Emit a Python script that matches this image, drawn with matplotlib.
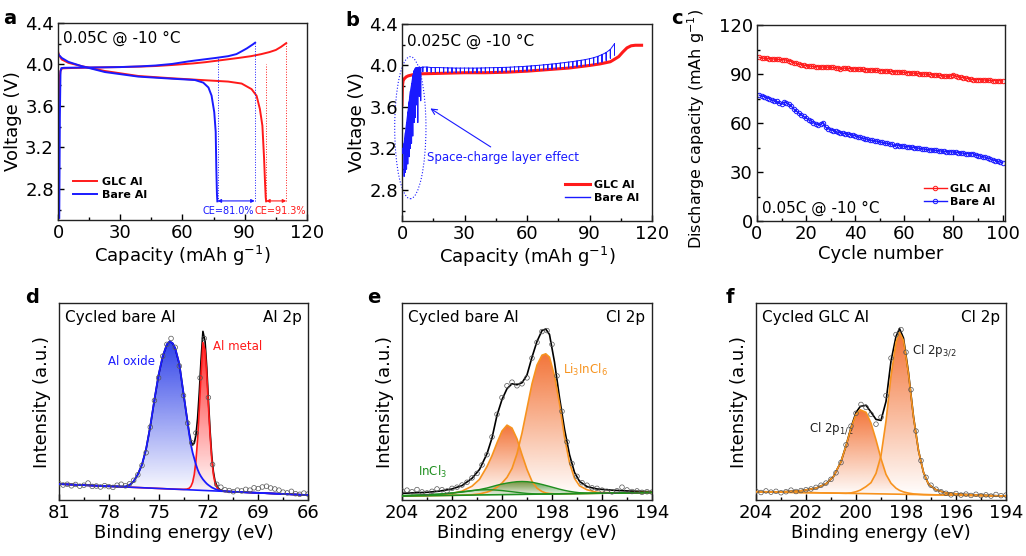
import numpy as np
import matplotlib.pyplot as plt
from matplotlib.patches import Ellipse, PathPatch
from matplotlib.colors import to_rgb
from matplotlib.ticker import MultipleLocator

plt.rcParams['font.family'] = ['DejaVu Sans']
plt.rcParams['mathtext.default'] = 'regular'

RED = '#ff1a1a'
BLUE = '#1a1aff'
ORANGE = '#f7931e'
GREEN = '#1f8f1f'

# ---------------- (a) charge/discharge 0.05C ----------------
a_glc_chg_x = [0.05, 0.3, 0.7, 1.2, 2, 5, 15, 30, 40, 47, 55, 65, 71, 80, 87, 93, 98, 102, 105, 107.5, 110]
a_glc_chg_y = [2.55, 3.55, 3.85, 3.94, 3.962, 3.965, 3.97, 3.975, 3.98, 3.985, 3.995, 4.01, 4.022, 4.045, 4.063, 4.08, 4.10, 4.12, 4.14, 4.17, 4.206]
a_bare_chg_x = [0.6, 0.9, 1.2, 1.6, 3, 10, 20, 30, 40, 47, 55, 63, 70, 76, 82, 86, 88.5, 91, 92.5, 94, 95]
a_bare_chg_y = [2.52, 3.5, 3.93, 3.965, 3.968, 3.97, 3.972, 3.975, 3.982, 3.99, 4.005, 4.03, 4.048, 4.063, 4.08, 4.10, 4.127, 4.155, 4.175, 4.195, 4.21]
a_glc_dis_x = [0, 0.5, 1.8, 5, 11.4, 22.6, 38.7, 54.8, 70.8, 82, 88.5, 93.3, 95.7, 97.3, 98.5, 99.3, 99.8, 100.1, 100.3]
a_glc_dis_y = [4.127, 4.09, 4.048, 4.016, 3.984, 3.937, 3.889, 3.867, 3.848, 3.835, 3.816, 3.762, 3.698, 3.57, 3.41, 3.1, 2.85, 2.72, 2.68]
a_bare_dis_x = [0, 0.5, 1.8, 5, 11.4, 22.6, 38.7, 54.8, 66, 70, 72.5, 74, 75.3, 76, 76.3, 76.6, 76.8]
a_bare_dis_y = [4.11, 4.09, 4.063, 4.025, 3.984, 3.927, 3.883, 3.863, 3.85, 3.825, 3.778, 3.70, 3.54, 3.35, 3.0, 2.75, 2.68]
ce_bare = [76.9, 94.8]
ce_bare_top = [4.065, 4.21]
ce_glc = [100.3, 110.0]
ce_glc_top = [4.0, 4.206]
ce_labels = ['CE=81.0%', 'CE=91.3%']

# ---------------- (b) GITT 0.025C ----------------
b_glc_x = [0, 0.2, 0.5, 1, 2, 3, 5, 8, 10, 20, 30, 40, 50, 60, 70, 80, 90, 95, 100, 102, 104, 106, 108, 110, 112, 115]
b_glc_y = [3.62, 3.8, 3.85, 3.87, 3.89, 3.90, 3.91, 3.92, 3.92, 3.925, 3.93, 3.93, 3.935, 3.945, 3.96, 3.975, 4.0, 4.015, 4.036, 4.06, 4.085, 4.13, 4.17, 4.19, 4.195, 4.195]
b_bare_x = [0.5, 1.0, 1.6, 2.2, 2.8, 3.4, 4.0, 4.6, 5.2, 5.8, 6.4, 7.0, 7.6, 8.3, 9.0,
            10, 12, 14, 16, 18, 20, 22, 24, 26, 28, 30, 32, 34, 36, 38, 40, 42, 44, 46, 48, 50,
            52, 54, 56, 58, 60, 62, 64, 66, 68, 70, 72, 74, 76, 78, 80, 82, 84, 86, 88, 90,
            92, 94, 96, 98, 100, 102]
b_bare_top = [3.2, 3.25, 3.35, 3.45, 3.55, 3.65, 3.75, 3.82, 3.9, 3.95, 3.975, 3.98, 3.98, 3.985, 3.98,
              3.985, 3.985, 3.98, 3.98, 3.98, 3.978, 3.977, 3.976, 3.975, 3.975, 3.975, 3.975, 3.975, 3.975, 3.976, 3.977, 3.978, 3.979, 3.98, 3.981, 3.982,
              3.984, 3.986, 3.988, 3.99, 3.993, 3.996, 3.999, 4.002, 4.006, 4.01, 4.014, 4.018, 4.023, 4.028, 4.033, 4.038, 4.044, 4.05, 4.057, 4.065,
              4.075, 4.088, 4.105, 4.125, 4.155, 4.21]
b_bare_low = [3.15, 2.93, 2.97, 3.0, 3.05, 3.12, 3.2, 3.25, 3.32, 3.45, 3.5, 3.62, 3.45, 3.7, 3.66,
              3.94, 3.94, 3.935, 3.935, 3.935, 3.933, 3.932, 3.931, 3.93, 3.93, 3.93, 3.93, 3.93, 3.93, 3.931, 3.932, 3.933, 3.934, 3.935, 3.936, 3.937,
              3.938, 3.94, 3.942, 3.944, 3.946, 3.948, 3.951, 3.954, 3.957, 3.96, 3.963, 3.966, 3.97, 3.974, 3.978, 3.982, 3.987, 3.992, 3.997, 4.003,
              4.01, 4.02, 4.032, 4.048, 4.07, 4.1]

# ---------------- (c) cycling ----------------
cycles = np.arange(1, 101)
c_glc = [100.2, 99.8, 99.6, 99.5, 99.3, 99.4, 99.1, 99.0, 98.9, 98.8,
         98.7, 98.5, 98.2, 97.6, 97.0, 96.5, 96.1, 95.7, 95.4, 95.1,
         94.9, 94.8, 94.6, 94.5, 94.4, 94.3, 94.3, 94.2, 94.2, 94.1,
         94.0, 93.9, 93.6, 92.9, 93.7, 93.5, 93.4, 93.3, 93.2, 93.1,
         93.0, 92.9, 92.8, 92.7, 92.6, 92.5, 92.4, 92.3, 92.2, 92.1,
         92.0, 91.9, 91.8, 91.6, 91.5, 91.4, 91.3, 91.2, 91.1, 91.0,
         90.9, 90.8, 90.6, 90.5, 90.4, 90.2, 89.8, 90.0, 89.9, 89.8,
         89.6, 89.5, 89.3, 89.2, 89.0, 88.8, 88.6, 88.5, 88.8, 89.6,
         88.7, 88.2, 88.0, 87.8, 87.5, 87.2, 86.9, 86.6, 86.5, 86.6,
         86.5, 86.4, 86.3, 86.1, 86.2, 86.0, 85.9, 86.0, 85.8, 85.8]
c_bare = [77.0, 76.6, 76.2, 75.6, 75.0, 74.2, 73.4, 73.3, 72.2, 71.4,
          72.8, 72.4, 71.5, 70.2, 68.6, 67.3, 66.1, 65.0, 64.0, 63.0,
          62.0, 61.2, 60.3, 59.5, 58.9, 59.3, 60.2, 57.4, 56.6, 56.0,
          55.4, 54.8, 54.3, 54.0, 53.7, 53.5, 53.2, 52.9, 52.6, 52.2,
          51.7, 51.2, 50.7, 50.3, 50.0, 49.6, 49.3, 49.0, 48.8, 48.5,
          48.1, 47.6, 47.6, 47.3, 47.0, 45.8, 46.6, 46.2, 46.0, 45.8,
          45.6, 45.4, 45.2, 45.0, 44.8, 44.5, 44.3, 44.0, 43.8, 43.6,
          43.5, 43.4, 43.2, 43.0, 42.8, 42.6, 42.5, 42.4, 42.3, 42.2,
          42.1, 41.9, 41.7, 41.5, 41.3, 41.2, 41.3, 41.2, 40.6, 40.1,
          39.7, 39.4, 39.0, 38.5, 38.0, 37.5, 37.0, 36.5, 36.1, 35.8]

# ---------------- (d) Al 2p ----------------
d_E = [81.0, 80.0, 79.0, 78.0, 77.0, 76.75, 76.5, 76.25, 76.0, 75.75, 75.5, 75.25, 75.0, 74.75, 74.5, 74.33,
       74.15, 74.0, 73.75, 73.5, 73.3, 73.15, 73.05, 72.95, 72.85, 72.75, 72.65, 72.55, 72.45, 72.33, 72.2,
       72.1, 72.0, 71.9, 71.8, 71.7, 71.6, 71.45, 71.3, 71.1, 70.8, 70.0, 69.0, 68.0, 67.0, 66.0]
d_base = [8.10, 7.73, 7.35, 6.98, 6.61, 6.51, 6.42, 6.33, 6.23, 6.14, 6.05, 5.95, 5.86, 5.77, 5.67, 5.61,
          5.54, 5.49, 5.39, 5.30, 5.23, 5.17, 5.13, 5.10, 5.06, 5.02, 4.98, 4.95, 4.91, 4.86, 4.82,
          4.78, 4.74, 4.70, 4.67, 4.63, 4.59, 4.54, 4.48, 4.40, 4.29, 3.99, 3.62, 3.25, 2.87, 2.50]
d_oxide = [8.10, 7.73, 7.35, 6.98, 6.8, 7.6, 9.5, 13.0, 18.0, 26.0, 37.5, 51.0, 63.5, 73.0, 79.0, 80.5,
           79.5, 77.0, 69.0, 54.0, 42.0, 33.0, 28.0, 24.0, 21.0, 18.0, 15.5, 13.5, 12.0, 10.5, 9.2,
           8.3, 7.6, 7.0, 6.4, 6.0, 5.6, 5.1, 4.8, 4.5, 4.3, 3.99, 3.62, 3.25, 2.87, 2.50]
d_metal = [8.10, 7.73, 7.35, 6.98, 6.61, 6.51, 6.42, 6.33, 6.23, 6.14, 6.05, 5.95, 5.86, 5.77, 5.67, 5.61,
           5.54, 5.49, 5.45, 5.40, 5.5, 6.0, 7.0, 9.0, 13.0, 20.0, 31.0, 46.0, 63.0, 80.0, 76.0,
           64.0, 48.0, 33.0, 21.0, 13.0, 8.5, 5.8, 4.9, 4.45, 4.29, 3.99, 3.62, 3.25, 2.87, 2.50]
d_env = [8.10, 7.73, 7.35, 6.98, 6.8, 7.6, 9.5, 13.0, 18.0, 26.0, 37.5, 51.0, 63.5, 73.0, 79.0, 80.5,
         79.5, 77.0, 69.0, 54.1, 42.3, 33.8, 29.9, 27.9, 28.9, 33.0, 41.5, 54.5, 70.1, 85.6, 80.4,
         67.5, 50.9, 35.3, 22.7, 14.4, 9.5, 6.4, 5.2, 4.55, 4.3, 3.99, 3.62, 3.25, 2.87, 2.50]
d_raw_E = [81.0, 80.75, 80.5, 80.25, 80.0, 79.75, 79.5, 79.25, 79.0, 78.75, 78.5, 78.25, 78.0, 77.75, 77.5,
           77.25, 77.0, 76.75, 76.5, 76.25, 76.0, 75.75, 75.5, 75.25, 75.0, 74.75, 74.5, 74.25, 74.0, 73.75,
           73.5, 73.25, 73.0, 72.75, 72.5, 72.25, 72.0, 71.75, 71.5, 71.25, 71.0, 70.75, 70.5, 70.25, 70.0,
           69.75, 69.5, 69.25, 69.0, 68.75, 68.5, 68.25, 68.0, 67.75, 67.5, 67.25, 67.0, 66.75, 66.5, 66.25, 66.0]
d_raw_I = [8.3, 7.6, 8.0, 7.2, 7.9, 7.0, 7.5, 8.6, 6.9, 7.1, 6.6, 7.3, 6.8, 6.4, 7.5,
           8.0, 7.2, 8.2, 10.0, 12.8, 17.5, 24.0, 37.0, 50.5, 62.0, 73.0, 79.0, 82.0, 77.5, 68.0,
           53.0, 39.0, 29.0, 34.0, 62.0, 82.0, 52.0, 18.0, 8.0, 6.5, 5.2, 4.8, 4.2, 5.0, 4.6,
           5.4, 5.0, 6.2, 5.8, 6.6, 7.0, 6.1, 5.6, 5.0, 4.0, 3.6, 4.4, 3.2, 2.9, 3.5, 3.0]

# ---------------- (e) Cl 2p, bare Al ----------------
e_E = [204.0, 203.0, 202.5, 202.0, 201.6, 201.2, 200.9, 200.6, 200.4, 200.2, 200.0, 199.8, 199.6, 199.4, 199.2, 199.0,
       198.8, 198.6, 198.4, 198.25, 198.1, 197.9, 197.7, 197.5, 197.3, 197.1, 196.9, 196.6, 196.2, 195.5, 195.0, 194.0]
e_base = [2.0, 2.18, 2.27, 2.36, 2.43, 2.5, 2.56, 2.61, 2.65, 2.68, 2.72, 2.76, 2.79, 2.83, 2.86, 2.9,
          2.94, 2.97, 3.01, 3.04, 3.06, 3.1, 3.13, 3.17, 3.21, 3.24, 3.28, 3.33, 3.4, 3.53, 3.62, 3.8]
e_incl3 = [2.3, 2.7, 3.0, 3.5, 4.0, 4.7, 5.3, 6.1, 6.8, 7.5, 8.1, 8.6, 9.0, 9.3, 9.4, 9.3,
           9.0, 8.5, 7.9, 7.4, 6.9, 6.2, 5.5, 4.9, 4.4, 4.0, 3.7, 3.5, 3.45, 3.53, 3.62, 3.8]
e_incl3_b = [2.1, 2.6, 3.0, 3.6, 4.2, 4.8, 5.1, 5.2, 5.15, 5.0, 4.8, 4.5, 4.2, 3.9, 3.6, 3.35,
             3.2, 3.1, 3.05, 3.04, 3.06, 3.1, 3.13, 3.17, 3.21, 3.24, 3.28, 3.33, 3.4, 3.53, 3.62, 3.8]
e_p32 = [2.0, 2.18, 2.27, 2.4, 2.5, 2.7, 3.1, 4.0, 5.0, 6.5, 8.6, 11.5, 16.0, 23.5, 34.0, 46.5,
         59.0, 68.5, 73.5, 74.2, 72.5, 63.0, 49.0, 32.0, 19.0, 11.0, 7.2, 5.2, 3.9, 3.6, 3.62, 3.8]
e_p12 = [2.0, 2.3, 2.6, 3.3, 4.5, 7.0, 10.5, 17.0, 22.5, 29.0, 35.0, 38.0, 36.5, 31.0, 23.0, 15.5,
         9.5, 6.0, 4.3, 3.6, 3.3, 3.15, 3.13, 3.17, 3.21, 3.24, 3.28, 3.33, 3.4, 3.53, 3.62, 3.8]
e_env = [3.4, 3.9, 4.5, 5.6, 7.3, 11.0, 15.5, 23.5, 31.5, 43.0, 51.0, 56.5, 59.0, 58.5, 59.5, 63.5,
         72.5, 80.5, 86.0, 86.8, 84.0, 70.0, 52.0, 36.0, 23.0, 14.0, 9.5, 6.8, 5.6, 4.9, 4.6, 4.2]
e_raw_E = [204.0, 203.8, 203.6, 203.4, 203.2, 203.0, 202.8, 202.6, 202.4, 202.2, 202.0, 201.8, 201.6, 201.4, 201.2,
           201.0, 200.8, 200.6, 200.4, 200.2, 200.0, 199.8, 199.6, 199.4, 199.2, 199.0, 198.8, 198.6, 198.4, 198.2,
           198.0, 197.8, 197.6, 197.4, 197.2, 197.0, 196.8, 196.6, 196.4, 196.2, 196.0, 195.8, 195.6, 195.4, 195.2,
           195.0, 194.8, 194.6, 194.4, 194.2, 194.0]
e_raw_I = [4.6, 5.0, 4.2, 5.3, 4.1, 3.6, 4.4, 5.6, 5.2, 4.6, 5.9, 6.5, 7.6, 9.0, 11.2,
           13.5, 17.8, 23.0, 32.0, 43.5, 52.0, 58.0, 59.8, 58.0, 59.0, 62.0, 72.0, 80.0, 85.5, 86.0,
           79.0, 63.0, 45.0, 29.5, 18.5, 12.0, 8.8, 7.5, 6.2, 5.9, 5.0, 4.4, 4.1, 4.7, 6.5,
           5.1, 4.3, 4.6, 3.9, 4.2, 4.0]

# ---------------- (f) Cl 2p, GLC Al ----------------
f_E = [204.0, 203.0, 202.2, 201.6, 201.2, 200.9, 200.6, 200.4, 200.2, 200.0, 199.83, 199.6, 199.4, 199.2, 199.0,
       198.8, 198.6, 198.4, 198.26, 198.1, 197.9, 197.7, 197.5, 197.3, 197.1, 196.8, 196.4, 195.8, 195.0, 194.0]
f_base = [4.2, 3.98, 3.8, 3.67, 3.58, 3.52, 3.45, 3.41, 3.36, 3.32, 3.28, 3.23, 3.19, 3.14, 3.1,
          3.06, 3.01, 2.97, 2.94, 2.9, 2.86, 2.81, 2.77, 2.73, 2.68, 2.62, 2.53, 2.4, 2.22, 2.0]
f_p12 = [4.2, 4.1, 4.7, 6.0, 8.2, 11.9, 19.5, 27.5, 36.5, 43.5, 45.8, 44.5, 39.0, 30.5, 21.0,
         13.0, 8.5, 6.0, 4.9, 4.1, 3.5, 3.1, 2.9, 2.73, 2.68, 2.62, 2.53, 2.4, 2.22, 2.0]
f_p32 = [4.2, 3.98, 3.8, 3.67, 3.58, 3.52, 3.45, 3.41, 3.6, 4.2, 5.0, 6.8, 8.8, 13.5, 22.5,
         40.0, 63.0, 80.0, 85.0, 81.0, 64.0, 42.0, 25.0, 14.0, 8.0, 5.2, 3.6, 2.9, 2.4, 2.0]
f_env = [4.2, 4.1, 4.7, 6.0, 8.2, 11.9, 19.5, 27.5, 36.8, 44.4, 47.5, 48.1, 44.6, 40.9, 40.4,
         50.0, 70.5, 83.0, 87.0, 82.2, 64.6, 42.3, 25.1, 14.0, 8.0, 5.2, 3.6, 2.9, 2.4, 2.0]
f_raw_E = e_raw_E
f_raw_I = [4.5, 3.8, 4.6, 4.0, 4.4, 3.7, 4.2, 5.0, 4.3, 4.8, 5.2, 5.6, 6.4, 7.5, 8.6,
           10.5, 13.8, 19.0, 28.0, 37.5, 44.0, 48.5, 47.0, 43.5, 38.5, 42.0, 53.0, 72.0, 84.0, 86.5,
           75.0, 56.0, 35.0, 20.0, 11.5, 7.5, 5.5, 4.2, 3.4, 2.6, 3.3, 2.5, 3.0, 2.3, 2.9,
           2.2, 2.6, 2.0, 2.8, 2.2, 2.5]

W, H = 1026, 556
fig = plt.figure(figsize=(W / 100, H / 100), dpi=100)


def add_ax(l, t, r, b):
    ax = fig.add_axes([l / W, 1 - b / H, (r - l) / W, (b - t) / H])
    for s in ax.spines.values():
        s.set_linewidth(1.0)
        s.set_color('#222222')
    ax.tick_params(which='major', direction='in', length=4, width=1, labelsize=13, pad=3)
    ax.tick_params(which='minor', direction='in', length=2.5, width=1)
    return ax


def grad_fill(ax, x, top, base, color, a_top=0.9, z=1):
    x = np.asarray(x)
    coll = ax.fill_between(x, base, top, facecolor='none', edgecolor='none')
    clip = PathPatch(coll.get_paths()[0], transform=ax.transData, fc='none', ec='none')
    ax.add_patch(clip)
    img = np.ones((256, 2, 4))
    img[..., :3] = to_rgb(color)
    img[..., 3] = np.linspace(a_top, 0.0, 256)[:, None]
    im = ax.imshow(img, extent=[x.min(), x.max(), min(base), max(top)],
                   origin='upper', aspect='auto', zorder=z, interpolation='bilinear')
    im.set_clip_path(clip)


def raw(ax, x, y):
    ax.scatter(x, y, s=11, facecolors='none', edgecolors='#555555', linewidths=0.5, zorder=6)


def xps_frame(ax, xlim, step, minor):
    ax.set_xlim(*xlim)
    ax.set_ylim(0, 100)
    ax.set_yticks([])
    ax.xaxis.set_major_locator(MultipleLocator(step))
    ax.xaxis.set_minor_locator(MultipleLocator(minor))
    ax.set_xlabel('Binding energy (eV)', fontsize=13, labelpad=1)
    ax.set_ylabel('Intensity (a.u.)', fontsize=13, labelpad=6)


# ---------- a ----------
ax = add_ax(58, 23, 307, 220)
ax.plot(a_glc_dis_x, a_glc_dis_y, color=RED, lw=1.4)
ax.plot(a_glc_chg_x, a_glc_chg_y, color=RED, lw=1.4, label='GLC Al')
ax.plot(a_bare_dis_x, a_bare_dis_y, color=BLUE, lw=1.4)
ax.plot(a_bare_chg_x, a_bare_chg_y, color=BLUE, lw=1.4, label='Bare Al')
for xs, tops, col in [(ce_bare, ce_bare_top, BLUE), (ce_glc, ce_glc_top, RED)]:
    for xv, tv in zip(xs, tops):
        ax.plot([xv, xv], [2.684, tv], ls=':', color=col, lw=0.7)
    ax.annotate('', xy=(xs[1], 2.684), xytext=(xs[0], 2.684),
                arrowprops=dict(arrowstyle='<|-|>', color=col, lw=0.8, shrinkA=0, shrinkB=0,
                                mutation_scale=5))
ax.text(82.0, 2.585, ce_labels[0], color=BLUE, fontsize=7, ha='center', va='center')
ax.text(107.2, 2.585, ce_labels[1], color=RED, fontsize=7, ha='center', va='center', clip_on=False)
ax.text(2.4, 4.255, '0.05C @ -10 °C', fontsize=11, va='center')
ax.set_xlim(0, 120)
ax.set_ylim(2.5, 4.4)
ax.xaxis.set_major_locator(MultipleLocator(30))
ax.xaxis.set_minor_locator(MultipleLocator(15))
ax.yaxis.set_minor_locator(MultipleLocator(0.2))
ax.set_yticks([2.8, 3.2, 3.6, 4.0, 4.4])
ax.set_xlabel('Capacity (mAh g$^{-1}$)', fontsize=13, labelpad=1)
ax.set_ylabel('Voltage (V)', fontsize=13, labelpad=2)
ax.legend(loc='lower left', bbox_to_anchor=(0.02, 0.05), frameon=False, handlelength=2.2,
          handletextpad=0.4, labelspacing=0.3, prop={'weight': 'bold', 'size': 8})

# ---------- b ----------
ax = add_ax(402, 24, 652, 221)
ax.plot(b_glc_x, b_glc_y, color=RED, lw=2.2, label='GLC Al', zorder=2)
bx = np.repeat(b_bare_x, 3)
by = np.column_stack([b_bare_top, b_bare_low, b_bare_top]).ravel()
ax.plot(bx, by, color=BLUE, lw=0.7, zorder=3)
ax.plot([], [], color=BLUE, lw=1.0, label='Bare Al')
ax.add_patch(Ellipse((4.0, 3.4), 15, 1.37, fill=False, ls=':', ec=BLUE, lw=0.8, clip_on=False))
ax.annotate('', xy=(12.5, 3.60), xytext=(43.7, 3.20),
            arrowprops=dict(arrowstyle='->', color=BLUE, lw=0.8))
ax.text(12.0, 3.11, 'Space-charge layer effect', color=BLUE, fontsize=8.5, va='center')
ax.text(2.2, 4.23, '0.025C @ -10 °C', fontsize=11, va='center')
ax.set_xlim(0, 120)
ax.set_ylim(2.5, 4.4)
ax.xaxis.set_major_locator(MultipleLocator(30))
ax.xaxis.set_minor_locator(MultipleLocator(15))
ax.yaxis.set_minor_locator(MultipleLocator(0.2))
ax.set_yticks([2.8, 3.2, 3.6, 4.0, 4.4])
ax.set_xlabel('Capacity (mAh g$^{-1}$)', fontsize=13, labelpad=1)
ax.set_ylabel('Voltage (V)', fontsize=13, labelpad=2)
ax.legend(loc='lower right', bbox_to_anchor=(0.99, 0.04), frameon=False, handlelength=2.2,
          handletextpad=0.4, labelspacing=0.3, prop={'weight': 'bold', 'size': 8})

# ---------- c ----------
ax = add_ax(757, 25, 1005, 221)
ax.plot(cycles, c_glc, color=RED, lw=1, marker='o', ms=3.2, mfc='none', mew=0.7, label='GLC Al')
ax.plot(cycles, c_bare, color=BLUE, lw=1, marker='o', ms=3.2, mfc='none', mew=0.7, label='Bare Al')
ax.text(0.02, 0.066, '0.05C @ -10 °C', transform=ax.transAxes, fontsize=11, va='center')
ax.set_xlim(0, 101)
ax.set_ylim(0, 120)
ax.xaxis.set_major_locator(MultipleLocator(20))
ax.xaxis.set_minor_locator(MultipleLocator(10))
ax.yaxis.set_major_locator(MultipleLocator(30))
ax.yaxis.set_minor_locator(MultipleLocator(15))
ax.set_xlabel('Cycle number', fontsize=13, labelpad=1)
ax.set_ylabel('Discharge capacity (mAh g$^{-1}$)', fontsize=11.5, labelpad=2)
ax.yaxis.set_label_coords(-0.2, 0.47)
ax.legend(loc='lower right', bbox_to_anchor=(1.0, 0.02), frameon=False, handlelength=2.0,
          handletextpad=0.3, labelspacing=0.3, prop={'weight': 'bold', 'size': 8})

# ---------- d ----------
ax = add_ax(59, 303, 308, 500)
grad_fill(ax, d_E, d_oxide, d_base, '#1a2ee6')
grad_fill(ax, d_E, d_metal, d_base, '#ff1010')
ax.plot(d_E, d_env, color='black', lw=1.2, zorder=3)
ax.plot(d_E, d_metal, color=RED, lw=1.2, zorder=4)
ax.plot(d_E, d_oxide, color=BLUE, lw=1.3, zorder=4)
ax.plot(d_E, d_base, color=BLUE, lw=1.2, zorder=4)
raw(ax, d_raw_E, d_raw_I)
ax.text(75.2, 70.3, 'Al oxide', color=BLUE, fontsize=8.5, ha='right', va='center')
ax.text(71.75, 78, 'Al metal', color=RED, fontsize=8.5, ha='left', va='center')
ax.text(0.024, 0.924, 'Cycled bare Al', transform=ax.transAxes, fontsize=11, va='center')
ax.text(0.976, 0.924, 'Al 2p', transform=ax.transAxes, fontsize=11, va='center', ha='right')
xps_frame(ax, (81, 66), 3, 1.5)

# ---------- e ----------
ax = add_ax(402, 303, 652, 500)
grad_fill(ax, e_E, e_incl3, e_base, '#1f8f1f', a_top=0.8)
grad_fill(ax, e_E, e_p12, e_base, '#f26522')
grad_fill(ax, e_E, e_p32, e_base, '#f26522')
ax.plot(e_E, e_env, color='black', lw=1.2, zorder=3)
ax.plot(e_E, e_p12, color=ORANGE, lw=1.2, zorder=4)
ax.plot(e_E, e_p32, color=ORANGE, lw=1.2, zorder=4)
ax.plot(e_E, e_incl3, color=GREEN, lw=1.0, zorder=4)
ax.plot(e_E, e_incl3_b, color=GREEN, lw=1.0, zorder=4)
ax.plot(e_E, e_base, color=GREEN, lw=1.2, zorder=4)
raw(ax, e_raw_E, e_raw_I)
ax.text(197.58, 66, 'Li$_3$InCl$_6$', color=ORANGE, fontsize=8.5, ha='left', va='center')
ax.text(203.35, 14.4, 'InCl$_3$', color=GREEN, fontsize=8.5, ha='left', va='center')
ax.text(0.024, 0.924, 'Cycled bare Al', transform=ax.transAxes, fontsize=11, va='center')
ax.text(0.972, 0.924, 'Cl 2p', transform=ax.transAxes, fontsize=11, va='center', ha='right')
xps_frame(ax, (204, 194), 2, 1)

# ---------- f ----------
ax = add_ax(756, 303, 1006, 500)
grad_fill(ax, f_E, f_p12, f_base, '#f26522')
grad_fill(ax, f_E, f_p32, f_base, '#f26522')
ax.plot(f_E, f_env, color='black', lw=1.2, zorder=3)
ax.plot(f_E, f_p12, color=ORANGE, lw=1.2, zorder=4)
ax.plot(f_E, f_p32, color=ORANGE, lw=1.2, zorder=4)
ax.plot(f_E, f_base, color=ORANGE, lw=1.2, zorder=4)
raw(ax, f_raw_E, f_raw_I)
ax.text(197.77, 76, 'Cl 2p$_{3/2}$', color='#222222', fontsize=8.5, ha='left', va='center')
ax.text(200.1, 36.4, 'Cl 2p$_{1/2}$', color='#222222', fontsize=8.5, ha='right', va='center')
ax.text(0.024, 0.924, 'Cycled GLC Al', transform=ax.transAxes, fontsize=11, va='center')
ax.text(0.976, 0.924, 'Cl 2p', transform=ax.transAxes, fontsize=11, va='center', ha='right')
xps_frame(ax, (204, 194), 2, 1)

# panel letters
for lab, px, py in [('a', 3, 24), ('b', 345, 26), ('c', 671, 24),
                    ('d', 25, 303), ('e', 367, 303), ('f', 726, 303)]:
    fig.text(px / W, 1 - py / H, lab, fontsize=14, fontweight='bold', va='baseline')

fig.savefig('out.png', dpi=100)
